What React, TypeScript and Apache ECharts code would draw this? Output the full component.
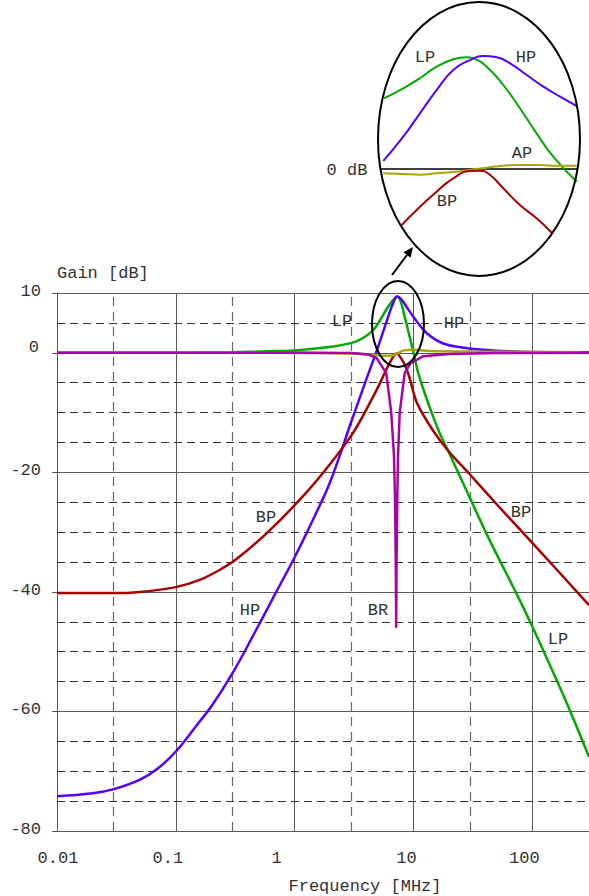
import React, { useEffect, useRef } from 'react';
import * as echarts from 'echarts';

// ---------- data ----------
const X_TICK_LABELS = ['0.01', '0.1', '1', '10', '100'];
const X_DASHED = [0.03, 0.3, 3, 30];
const Y_DASHED = [5, -5, -10, -15, -25, -30, -35, -45, -50, -55, -65, -70, -75];

const LP_F = [0.01, 0.1, 0.3, 0.6, 1, 2.1, 3.3, 4.6, 5.9, 6.6, 7.3, 7.8, 8.3, 9.1, 10, 11, 12.5, 14.4, 17, 20, 29.4, 43.6, 75.8, 100, 150, 212, 300];
const LP_DB = [0, 0.02, 0.1, 0.25, 0.4, 1.05, 1.9, 3.85, 7.2, 8.6, 9.4, 8.6, 6.6, 3.4, 0, -3.5, -6.9, -10.3, -13.9, -16.8, -24, -31.3, -40.8, -45.8, -53.5, -60.3, -67.6];

const HP_F = [0.01, 0.02, 0.03, 0.05, 0.07, 0.1, 0.15, 0.2, 0.3, 0.5, 0.7, 1, 1.5, 2, 3, 4, 5, 6, 6.8, 7.3, 8, 9, 10, 12.9, 17.6, 27.6, 46.5, 100, 300];
const HP_DB = [-74.2, -73.7, -73, -71.4, -69.6, -66.7, -62.3, -59.1, -53.6, -45.5, -40, -34.2, -27, -21.5, -11.5, -4.5, 0.8, 5.5, 8.5, 9.4, 8.8, 7.3, 6, 3.3, 1.6, 0.8, 0.4, 0.15, 0.05];

const BP_F = [0.01, 0.03, 0.05, 0.1, 0.159, 0.235, 0.32, 0.58, 1, 1.73, 3.1, 4.9, 6.3, 7.2, 8.3, 9.2, 10.7, 14.6, 20, 30, 52.6, 100, 300];
const BP_DB = [-40.2, -40.2, -40, -39.2, -38, -36.3, -34.6, -30.2, -25.5, -20.1, -13.4, -6.2, -1.7, -0.1, -1.7, -4, -8.4, -13, -16.6, -20.4, -25.8, -31.8, -42.2];

const BR_F = [0.01, 1, 3, 4.2, 4.9, 5.9, 6.5, 6.86, 7.0, 7.1, 7.15, 7.2, 7.3, 7.41, 7.66, 8.43, 9.4, 12, 20, 50, 300];
const BR_DB = [0, 0, -0.05, -0.3, -0.9, -3.4, -10, -17.4, -25, -36, -46, -36, -25, -17.4, -10, -3.4, -1.8, -0.6, -0.2, -0.05, 0];

const AP_F = [0.01, 1, 3, 4.5, 5.5, 6.5, 7.3, 8.3, 10, 14, 30, 100, 250];
const AP_DB = [0, 0, -0.1, -0.3, -0.5, -0.5, -0.1, 0.4, 0.5, 0.3, 0.2, 0.15, 0.1];

// zoomed inset (frequency MHz, dB)
const INSET_LP = [[5.24, 5.89], [6.0, 6.72], [6.66, 7.56], [7.32, 8.53], [7.98, 9.14], [8.51, 9.31], [8.77, 9.22], [9.3, 8.53], [9.96, 7.0], [10.62, 5.06], [11.28, 2.97], [11.94, 1.03], [12.87, -1.06]];
const INSET_HP = [[5.21, 0.67], [6.0, 2.69], [6.66, 4.64], [7.32, 6.58], [7.98, 8.25], [8.64, 9.08], [9.17, 9.42], [9.7, 9.31], [10.23, 8.81], [10.89, 7.83], [11.55, 6.86], [12.21, 6.03], [12.87, 5.25]];
const INSET_AP = [[5.21, -0.36], [6.0, -0.42], [6.66, -0.47], [7.32, -0.36], [7.98, -0.25], [8.64, -0.08], [9.3, 0.11], [9.96, 0.28], [10.62, 0.33], [11.28, 0.33], [11.94, 0.28], [12.87, 0.28]];
const INSET_BP = [[5.94, -4.67], [6.66, -3.14], [7.32, -1.89], [7.98, -0.78], [8.64, -0.17], [9.04, -0.14], [9.44, -0.5], [9.96, -1.61], [10.62, -3.0], [11.28, -4.11], [11.88, -5.31]];
const INSET_ZERO = [[5.12, 0], [12.92, 0]];

// ---------- styles ----------
const W = 589;
const H = 896;
const FONT = 'Liberation Mono';
const FS = 17;
const TEXT = '#333';
const C_LP = '#00aa00';
const C_HP = '#5500ff';
const C_BP = '#aa0000';
const C_BR = '#aa00aa';
const C_AP = '#aaa400';
const X_LABEL_SHIFT = [1, -8, -18, -7, -8];

const zip = (f: number[], d: number[]) => f.map((v, i) => [v, d[i]]);

const MAIN_LABELS = [
  { t: 'LP', x: 342, y: 321 },
  { t: 'HP', x: 454, y: 323 },
  { t: 'BP', x: 266, y: 517 },
  { t: 'BP', x: 521, y: 512 },
  { t: 'HP', x: 250, y: 610 },
  { t: 'BR', x: 378, y: 610 },
  { t: 'LP', x: 558, y: 639 },
];
const INSET_LABELS = [
  { t: 'LP', x: 425, y: 57 },
  { t: 'HP', x: 526, y: 57 },
  { t: 'AP', x: 522, y: 153 },
  { t: 'BP', x: 447, y: 201 },
  { t: '0 dB', x: 347, y: 170 },
];

function buildOption() {
  const rich: Record<string, any> = {};
  X_LABEL_SHIFT.forEach((s, i) => {
    rich['r' + i] = {
      fontFamily: FONT, fontSize: FS, color: TEXT,
      padding: s >= 0 ? [0, 0, 0, 2 * s] : [0, -2 * s, 0, 0],
    };
  });

  const mainLine = (name: string, data: number[][], color: string, smooth: number | boolean, w = 2.5) => ({
    type: 'line', name, data, xAxisIndex: 0, yAxisIndex: 0, showSymbol: false, smooth,
    lineStyle: { color, width: w }, itemStyle: { color }, z: 3, silent: true,
  });
  const insetLine = (name: string, data: number[][], color: string, w = 2) => ({
    type: 'line', name, data, xAxisIndex: 1, yAxisIndex: 1, showSymbol: false, smooth: true,
    lineStyle: { color, width: w }, itemStyle: { color }, z: 3, silent: true,
  });

  const textEl = (l: { t: string; x: number; y: number }) => ({
    type: 'text', x: l.x, y: l.y, z: 30, silent: true,
    style: { text: l.t, fill: TEXT, font: `${FS}px '${FONT}'`, align: 'center', verticalAlign: 'middle' },
  });

  return {
    animation: false,
    backgroundColor: '#fff',
    textStyle: { fontFamily: FONT },
    grid: [
      { left: 57, right: 0, top: 293, bottom: 65, containLabel: false, outerBoundsMode: 'none' },
      { left: 378, top: 1, width: 202, height: 240, containLabel: false, outerBoundsMode: 'none' },
    ],
    xAxis: [
      {
        type: 'log', logBase: 10, min: 0.01, max: 300, gridIndex: 0,
        axisLine: { show: true, lineStyle: { color: '#555', width: 1 } },
        axisTick: { show: true, length: 4, lineStyle: { color: '#555' } },
        minorTick: { show: false },
        splitLine: { show: true, lineStyle: { color: '#5a5a5a', width: 1 } },
        axisLabel: {
          showMaxLabel: false, margin: 19, fontSize: FS, color: TEXT, fontFamily: FONT,
          formatter: (v: number) => {
            const i = Math.round(Math.log10(v)) + 2;
            return i >= 0 && i < X_TICK_LABELS.length ? `{r${i}|${X_TICK_LABELS[i]}}` : '';
          },
          rich,
        },
        name: 'Frequency [MHz]', nameLocation: 'middle', nameGap: 47,
        nameTextStyle: { fontSize: FS, color: TEXT, fontFamily: FONT, padding: [0, 0, 0, 84] },
      },
      { type: 'value', gridIndex: 1, min: 5, max: 13, show: false },
    ],
    yAxis: [
      {
        type: 'value', min: -80, max: 10, interval: 20, gridIndex: 0,
        axisLine: { show: true, lineStyle: { color: '#555', width: 1 } },
        axisTick: { show: true, length: 5, lineStyle: { color: '#555' } },
        splitLine: { show: true, lineStyle: { color: '#5a5a5a', width: 1 } },
        axisLabel: {
          margin: 16, fontSize: FS, color: TEXT, fontFamily: FONT,
          formatter: (v: number) => (v === 0 ? '{z|0}' : `{n|${v}}`),
          rich: {
            z: { fontSize: FS, color: TEXT, fontFamily: FONT, padding: [0, 2, 10, 0] },
            n: { fontSize: FS, color: TEXT, fontFamily: FONT, padding: [0, 0, 3, 0] },
          },
        },
        name: 'Gain [dB]', nameLocation: 'end', nameGap: 20,
        nameTextStyle: { fontSize: FS, color: TEXT, fontFamily: FONT, align: 'left', verticalAlign: 'middle' },
      },
      { type: 'value', gridIndex: 1, min: -6, max: 14, show: false },
    ],
    series: [
      {
        type: 'line', name: 'grid', data: [], xAxisIndex: 0, yAxisIndex: 0, silent: true,
        markLine: {
          silent: true, symbol: ['none', 'none'], z: 1, label: { show: false },
          lineStyle: { type: [8, 5], color: '#333', width: 1 },
          data: [
            ...Y_DASHED.map((v) => ({ yAxis: v })),
            ...X_DASHED.map((v) => ({ xAxis: v, lineStyle: { type: [9, 6], color: '#666', width: 1.2 } })),
          ],
        },
      },
      mainLine('LP', zip(LP_F, LP_DB), C_LP, 0.3),
      mainLine('HP', zip(HP_F, HP_DB), C_HP, 0.4),
      mainLine('BP', zip(BP_F, BP_DB), C_BP, 0.3),
      mainLine('AP', zip(AP_F, AP_DB), C_AP, 0.3),
      mainLine('BR', zip(BR_F, BR_DB), C_BR, false),
      insetLine('0 dB', INSET_ZERO, '#000', 1.5),
      insetLine('LP zoom', INSET_LP, C_LP),
      insetLine('HP zoom', INSET_HP, C_HP),
      insetLine('AP zoom', INSET_AP, C_AP),
      insetLine('BP zoom', INSET_BP, C_BP),
    ],
    graphic: [
      { type: 'ellipse', z: 20, silent: true, shape: { cx: 479, cy: 139, rx: 101, ry: 137 }, style: { fill: 'none', stroke: '#000', lineWidth: 2 } },
      { type: 'ellipse', z: 20, silent: true, shape: { cx: 398, cy: 324, rx: 26, ry: 43 }, style: { fill: 'none', stroke: '#000', lineWidth: 2 } },
      { type: 'line', z: 20, silent: true, shape: { x1: 392, y1: 275, x2: 407, y2: 255 }, style: { stroke: '#000', lineWidth: 2 } },
      { type: 'polygon', z: 20, silent: true, shape: { points: [[413, 247], [410.6, 257.7], [403.4, 252.3]] }, style: { fill: '#000' } },
      ...MAIN_LABELS.map(textEl),
      ...INSET_LABELS.map(textEl),
    ],
  };
}

export default function App() {
  const ref = useRef<HTMLDivElement>(null);
  useEffect(() => {
    if (!ref.current) return;
    const chart = echarts.init(ref.current, null, { renderer: 'svg', width: W, height: H });
    chart.setOption(buildOption() as any);
    return () => chart.dispose();
  }, []);
  return (
    <div
      ref={ref}
      style={{ position: 'absolute', left: 0, top: 0, width: W, height: H, background: '#fff' }}
    />
  );
}
